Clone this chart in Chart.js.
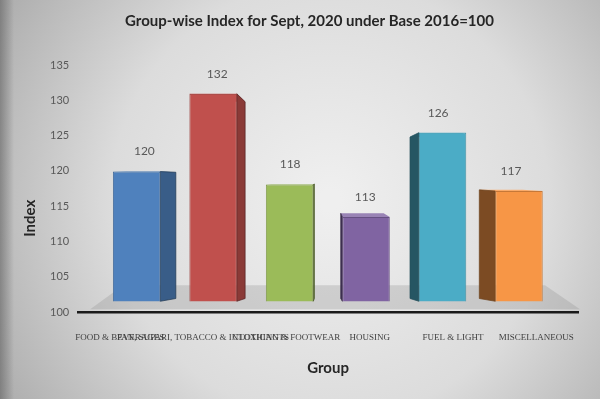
<!DOCTYPE html>
<html>
<head>
<meta charset="utf-8">
<script src="https://cdn.jsdelivr.net/npm/chart.js@4"></script>
<style>
html,body{margin:0;padding:0;background:#cfcfcf;overflow:hidden;}
#wrap{width:600px;height:399px;position:relative;}
</style>
</head>
<body>
<div id="wrap"><canvas id="c" width="600" height="399"></canvas></div>
<script>
// ---- data ----
const chartTitle = 'Group-wise Index for Sept, 2020 under Base 2016=100';
const categories = [
  'FOOD & BEVERAGES',
  'PAN, SUPARI, TOBACCO & INTOXICANTS',
  'CLOTHING & FOOTWEAR',
  'HOUSING',
  'FUEL & LIGHT',
  'MISCELLANEOUS'
];
const indexValues = [120, 132, 118, 113, 126, 117];
const yAxisMin = 100;
const yAxisMax = 135;
const yAxisStep = 5;
const xAxisTitle = 'Group';
const yAxisTitle = 'Index';

// ---- styles ----
const barColors = ['#4f81bd', '#c0504d', '#9bbb59', '#8064a2', '#4bacc6', '#f79646'];

function shade(hex, k) {
  const n = parseInt(hex.slice(1), 16);
  let r = (n >> 16) & 255, g = (n >> 8) & 255, b = n & 255;
  const f = v => Math.max(0, Math.min(255, Math.round(k <= 1 ? v * k : v + (255 - v) * (k - 1))));
  return 'rgb(' + f(r) + ',' + f(g) + ',' + f(b) + ')';
}

// perspective parameters (pseudo 3-D look)
const PERSP_SCALE = 0.918;
const DEPTH = 0.094;
const VX = 0.494;
const VY = 0.46;
const RISE = 3;

function vanish(a) { return { x: a.left + VX * a.width, y: a.top + VY * a.height }; }
function proj(p, V) { return { x: V.x + PERSP_SCALE * (p.x - V.x), y: V.y + PERSP_SCALE * (p.y - V.y) }; }

const bgPlugin = {
  id: 'bg',
  beforeDraw(chart) {
    const { ctx, width, height } = chart;
    ctx.save();
    const g = ctx.createRadialGradient(330, 200, 10, 330, 200, 390);
    g.addColorStop(0, '#efefef');
    g.addColorStop(0.55, '#dcdcdc');
    g.addColorStop(1, '#ababab');
    ctx.fillStyle = g;
    ctx.fillRect(0, 0, width, height);
    const lg = ctx.createLinearGradient(0, 0, 14, 0);
    lg.addColorStop(0, 'rgba(90,90,90,0.55)');
    lg.addColorStop(1, 'rgba(90,90,90,0)');
    ctx.fillStyle = lg;
    ctx.fillRect(0, 0, 14, height);
    ctx.restore();
  }
};

const threeD = {
  id: 'threeD',
  beforeDatasetsDraw(chart) {
    const { ctx, chartArea: a } = chart;
    const V = vanish(a);
    // floor
    ctx.save();
    ctx.fillStyle = 'rgba(140,140,140,0.28)';
    ctx.beginPath();
    ctx.moveTo(a.left + 12, a.bottom - 3);
    ctx.lineTo(a.right + 2, a.bottom - 3);
    ctx.lineTo(a.right - 33, a.bottom - 27);
    ctx.lineTo(a.left + 45, a.bottom - 27);
    ctx.closePath();
    ctx.fill();
    ctx.restore();

    ctx.save();
    ctx.translate(V.x, V.y);
    ctx.scale(PERSP_SCALE, PERSP_SCALE);
    ctx.translate(-V.x, -V.y);
    const meta = chart.getDatasetMeta(0);
    meta.data.forEach((bar, i) => {
      const half = bar.width / 2;
      const L = bar.x - half, R = bar.x + half;
      const top = bar.y, bottom = Math.min(bar.base, a.bottom);
      const bt = top + (V.y - top) * DEPTH;
      // top face
      ctx.fillStyle = shade(barColors[i], 1.2);
      ctx.beginPath();
      ctx.moveTo(L, top);
      ctx.lineTo(R, top);
      ctx.lineTo(R + (V.x - R) * DEPTH, bt);
      ctx.lineTo(L + (V.x - L) * DEPTH, bt);
      ctx.closePath();
      ctx.fill();
      // side face
      const rightSide = bar.x < V.x;
      const ex = rightSide ? R : L;
      const bx = ex + (V.x - ex) * DEPTH;
      ctx.fillStyle = shade(barColors[i], rightSide ? 0.72 : 0.5);
      ctx.beginPath();
      ctx.moveTo(ex, top);
      ctx.lineTo(bx, bt);
      ctx.lineTo(bx, bottom - RISE);
      ctx.lineTo(ex, bottom);
      ctx.closePath();
      ctx.fill();
      ctx.strokeStyle = shade(barColors[i], 0.45);
      ctx.lineWidth = 0.8;
      ctx.stroke();
    });
    // transform stays active while the library draws the bar fronts
  },
  afterDatasetsDraw(chart) {
    const { ctx, chartArea: a } = chart;
    ctx.restore();
    const V = vanish(a);
    const meta = chart.getDatasetMeta(0);
    ctx.save();
    ctx.font = '12px Lato';
    ctx.fillStyle = '#595959';
    ctx.textAlign = 'center';
    ctx.textBaseline = 'middle';
    meta.data.forEach((bar, i) => {
      const half = bar.width / 2;
      const L = bar.x - half, R = bar.x + half;
      const rightSide = bar.x < V.x;
      const ex = rightSide ? R : L;
      const bx = ex + (V.x - ex) * DEPTH;
      const cx = rightSide ? (L + bx) / 2 : (bx + R) / 2;
      const p = proj({ x: cx, y: bar.y }, V);
      ctx.fillText(String(indexValues[i]), p.x, p.y - 20);
    });
    ctx.restore();
  },
  afterDraw(chart) {
    const { ctx, chartArea: a } = chart;
    ctx.save();
    ctx.translate(a.left - 48, a.top + 0.62 * a.height);
    ctx.rotate(-Math.PI / 2);
    ctx.font = 'bold 15px Lato';
    ctx.fillStyle = '#262626';
    ctx.textAlign = 'center';
    ctx.textBaseline = 'middle';
    ctx.fillText(yAxisTitle, 0, 0);
    ctx.restore();
  }
};

new Chart(document.getElementById('c'), {
  type: 'bar',
  data: {
    labels: categories,
    datasets: [{
      data: indexValues,
      backgroundColor: barColors,
      borderColor: barColors.map(c => shade(c, 0.8)),
      borderWidth: 1,
      barPercentage: 0.62,
      categoryPercentage: 1
    }]
  },
  options: {
    responsive: false,
    animation: false,
    devicePixelRatio: 1,
    layout: { padding: { left: 41, right: 22, top: 0, bottom: 18 } },
    plugins: {
      legend: { display: false },
      tooltip: { enabled: false },
      title: {
        display: true,
        text: chartTitle,
        color: '#262626',
        font: { family: 'Lato', size: 15, weight: 'bold' },
        padding: { top: 12, bottom: 35 }
      }
    },
    scales: {
      x: {
        afterFit(scale) { scale.paddingLeft = 0; scale.paddingRight = 0; },
        grid: { display: false, drawTicks: false },
        border: { display: true, color: '#1a1a1a', width: 2.5 },
        ticks: {
          autoSkip: false, maxRotation: 0, minRotation: 0, padding: 20,
          color: '#404040', font: { family: 'Liberation Serif', size: 9 }
        },
        title: {
          display: true, text: xAxisTitle, color: '#262626',
          font: { family: 'Lato', size: 15, weight: 'bold' },
          padding: { top: -4, bottom: 4 }
        }
      },
      y: {
        min: yAxisMin, max: yAxisMax,
        ticks: { stepSize: yAxisStep, padding: 9, color: '#595959', font: { family: 'Lato', size: 11 } },
        grid: { display: false, drawTicks: false },
        border: { display: false }
      }
    }
  },
  plugins: [bgPlugin, threeD]
});
</script>
</body>
</html>
